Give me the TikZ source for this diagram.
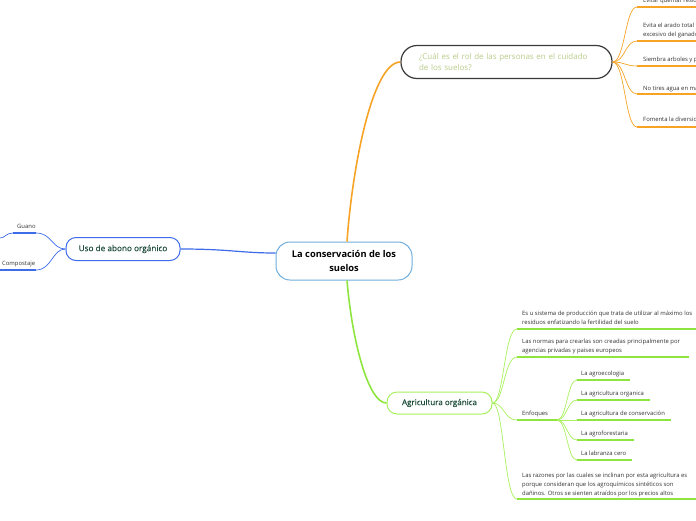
\documentclass[tikz,border=0pt]{standalone}
\usepackage{fontspec}
\setmainfont{Open Sans}
\newfontfamily\semib{Open Sans}[FakeBold=0.35]
\definecolor{orng}{HTML}{F7A325}
\definecolor{grn}{HTML}{8EE53F}
\definecolor{lgrn}{HTML}{A8F05C}
\definecolor{blu}{HTML}{3D6BEA}
\definecolor{cborder}{HTML}{6FAEDD}
\definecolor{dgrn}{HTML}{1E4D3B}
\definecolor{toptxt}{HTML}{B9CC8A}
\definecolor{leaftxt}{HTML}{333333}
\definecolor{topborder}{HTML}{3A3A3A}
\begin{document}
\begin{tikzpicture}[x=1pt,y=-1pt,
  leaf/.style={anchor=base west, inner sep=0pt, font=\fontsize{5.9}{9}\selectfont, text=leaftxt, align=left},
  uline/.style={line width=2.2pt},
  conn/.style={line width=0.7pt},
  mainconn/.style={line width=1.6pt},
  centralbox/.style={draw=cborder, line width=1pt, rounded corners=14pt, minimum width=136pt, minimum height=38pt, fill=white, align=center, font=\fontsize{9.3}{14}\selectfont\bfseries, text=black, inner sep=0pt},
  topbox/.style={draw=topborder, line width=1.2pt, rounded corners=16pt, minimum width=211pt, minimum height=33pt, fill=white, align=left, text width=175pt, inner xsep=18pt, font=\fontsize{8}{11.5}\selectfont, text=toptxt},
  subbox/.style={line width=1pt, rounded corners=10pt, fill=white, text=dgrn, inner sep=0pt}
]
\useasboundingbox (0,0) rectangle (696,520);
\clip (0,0) rectangle (696,520);

% ---------- main nodes ----------
\node[centralbox] (c) at (344,261) {La conservación de los\\suelos};
\node[topbox] (t) at (506.5,62) {¿Cuál es el rol de las personas en el cuidado\\de los suelos?};
\node[subbox, draw=blu, minimum width=114pt, minimum height=23pt, font=\fontsize{8.2}{10}\semib] (u) at (123,249) {Uso de abono orgánico};
\node[subbox, draw=lgrn, minimum width=105pt, minimum height=22pt, font=\fontsize{8}{10}\semib] (a) at (439.5,403) {Agricultura orgánica};

% ---------- main connectors ----------
\draw[mainconn, orng] ([xshift=3pt]c.north) .. controls (352,170) and (372,62) .. (t.west);
\draw[mainconn, grn] ([xshift=3pt]c.south) .. controls (352,340) and (368,403) .. (a.west);
\draw[mainconn, blu, line width=1.2pt] (u.east) .. controls (230,249) and (240,253) .. ([yshift=8pt]c.west);

% ---------- orange leaves ----------
\foreach \n/\y in {1/7, 2/41, 3/66, 4/94, 5/127}{
  \coordinate (o\n) at (637,\y);
  \coordinate (oe\n) at (700,\y);
  \draw[conn, orng] (t.east) .. controls (625,62) and (625,\y) .. (o\n);
  \draw[uline, orng] (o\n) -- (oe\n);
}
\node[leaf] (ot1) at (643,2) {Evitar quemar residuos};
\node[leaf] (ot2) at (643,36) {Evita el arado total y el pastoreo\\excesivo del ganado};
\node[leaf] (ot3) at (643,61) {Siembra arboles y plantas};
\node[leaf] (ot4) at (643,90) {No tires agua en mal estado};
\node[leaf] (ot5) at (643,121) {Fomenta la diversidad};

% ---------- blue leaves ----------
\coordinate (b1) at (36,233); \coordinate (b1s) at (13,233); \coordinate (b1x) at (0,238);
\coordinate (b2) at (36,270); \coordinate (b2s) at (0,270);
\draw[conn, blu] (u.west) .. controls (52,249) and (52,233) .. (b1);
\draw[conn, blu] (u.west) .. controls (52,249) and (52,270) .. (b2);
\draw[uline, blu] (b1s) -- (b1);
\draw[uline, blu] (b2s) -- (b2);
\draw[conn, blu] (b1s) .. controls (6,233) and (5,238) .. (b1x);
\node[leaf] (bt1) at (17,228) {Guano};
\node[leaf] (bt2) at (2,265) {Compostaje};

% ---------- green leaves ----------
\coordinate (g1) at (517,329); \coordinate (g1e) at (700,329);
\coordinate (g2) at (517,357); \coordinate (g2e) at (689,357);
\coordinate (g3) at (517,420); \coordinate (g3e) at (557,420);
\coordinate (g4) at (517,499); \coordinate (g4e) at (700,499);
\foreach \k/\y in {1/329, 2/357, 3/420, 4/499}{
  \draw[conn, lgrn] (a.east) .. controls (504,403) and (504,\y) .. (g\k);
  \draw[uline, grn] (g\k) -- (g\k e);
}
\node[leaf] (gt1) at (522,324) {Es u sistema de producción que trata de utilizar al máximo los\\residuos enfatizando la fertilidad del suelo};
\node[leaf] (gt2) at (522,352.5) {Las normas para crearlas son creadas principalmente por\\agencias privadas y paises europeos};
\node[leaf] (gt3) at (522,415) {Enfoques};
\node[leaf] (gt4) at (522,495) {Las razones por las cuales se inclinan por esta agricultura es\\porque consideran que los agroquímicos sintéticos son\\dañinos. Otros se sienten atraídos por los precios altos};

% ---------- Enfoques sub-leaves ----------
\foreach \k/\y/\xe in {1/380/630, 2/400/650, 3/420/671, 4/440/634, 5/460/632}{
  \coordinate (e\k) at (577,\y);
  \coordinate (ee\k) at (\xe,\y);
  \draw[conn, lgrn] (g3e) .. controls (567,420) and (567,\y) .. (e\k);
  \draw[uline, grn] (e\k) -- (ee\k);
}
\node[leaf] (et1) at (581,375) {La agroecologia};
\node[leaf] (et2) at (581,395) {La agricultura organica};
\node[leaf] (et3) at (581,415) {La agricultura de conservación};
\node[leaf] (et4) at (581,435) {La agroforestaria};
\node[leaf] (et5) at (581,455) {La labranza cero};
\end{tikzpicture}
\end{document}
